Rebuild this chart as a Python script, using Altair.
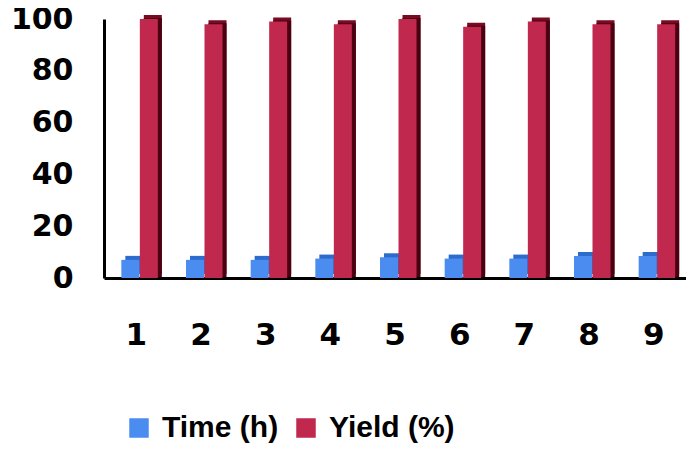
import altair as alt
import pandas as pd

runs = ["1", "2", "3", "4", "5", "6", "7", "8", "9"]
time_h = [7, 7, 7, 7.5, 8, 7.5, 7.5, 8.5, 8.5]
yield_pct = [100, 98, 99, 98, 100, 97, 99, 98, 98]
series_names = ["Time (h)", "Yield (%)"]
front_colors = ["#4a8cf0", "#c0284e"]
top_colors = ["#2d6bcc", "#7a0a22"]
side_color = "#4a0010"

df = pd.DataFrame({
    "run": runs * 2,
    "series": [series_names[0]] * len(runs) + [series_names[1]] * len(runs),
    "value": time_h + yield_pct,
})

label_font = "DejaVu Sans"

x = alt.X("run:N", sort=runs, title=None,
          scale=alt.Scale(paddingInner=0, paddingOuter=0),
          axis=alt.Axis(labelAngle=0, labelFont=label_font, labelFontSize=31,
                        labelFontWeight="bold", labelColor="black",
                        domainColor="black", domainWidth=3, ticks=False,
                        tickSize=0, labelPadding=42, grid=False))
y = alt.Y("value:Q", title=None,
          scale=alt.Scale(domain=[0, 100], nice=False),
          axis=alt.Axis(values=[0, 20, 40, 60, 80, 100], labelFont=label_font,
                        labelFontSize=30, labelFontWeight="bold", labelColor="black",
                        domainColor="black", domainWidth=3, ticks=False, tickSize=0,
                        labelPadding=31, grid=False))

base = alt.Chart(df)
W = 18
BLUE_OFF = -6
RED_OFF = 12.5
D = 4

blue = base.transform_filter(alt.datum.series == series_names[0])
red = base.transform_filter(alt.datum.series == series_names[1])

blue_top = blue.mark_bar(width=W, xOffset=BLUE_OFF + D, yOffset=-D, y2Offset=-D,
                         color=top_colors[0]).encode(x=x, y=y)
red_top = red.mark_bar(width=W, xOffset=RED_OFF + D, yOffset=-D, y2Offset=-D,
                       color=top_colors[1]).encode(x=x, y=y)
red_side = red.mark_bar(width=W, xOffset=RED_OFF + D, yOffset=-1, y2Offset=-D,
                        color=side_color).encode(x=x, y=y)

color = alt.Color("series:N",
                  scale=alt.Scale(domain=series_names, range=front_colors),
                  legend=alt.Legend(orient="none", legendX=20, legendY=394,
                                    direction="horizontal", title=None,
                                    symbolType="square", symbolSize=380,
                                    symbolStrokeWidth=0, symbolOpacity=1,
                                    labelFont="Liberation Sans",
                                    labelFontSize=30, labelFontWeight="bold",
                                    labelColor="black", columnPadding=12,
                                    labelOffset=8, labelLimit=400))

blue_front = blue.mark_bar(width=W, xOffset=BLUE_OFF).encode(x=x, y=y, color=color)
red_front = red.mark_bar(width=W, xOffset=RED_OFF).encode(x=x, y=y, color=color)

chart = alt.layer(blue_top, red_top, red_side, blue_front, red_front).properties(
    width=582, height=259,
    autosize=alt.AutoSizeParams(type="none"),
    padding={"left": 96, "top": 11, "right": 0, "bottom": 168},
).configure_view(stroke=None)

chart.save("out.html", embed_options={"renderer": "svg", "actions": False})
